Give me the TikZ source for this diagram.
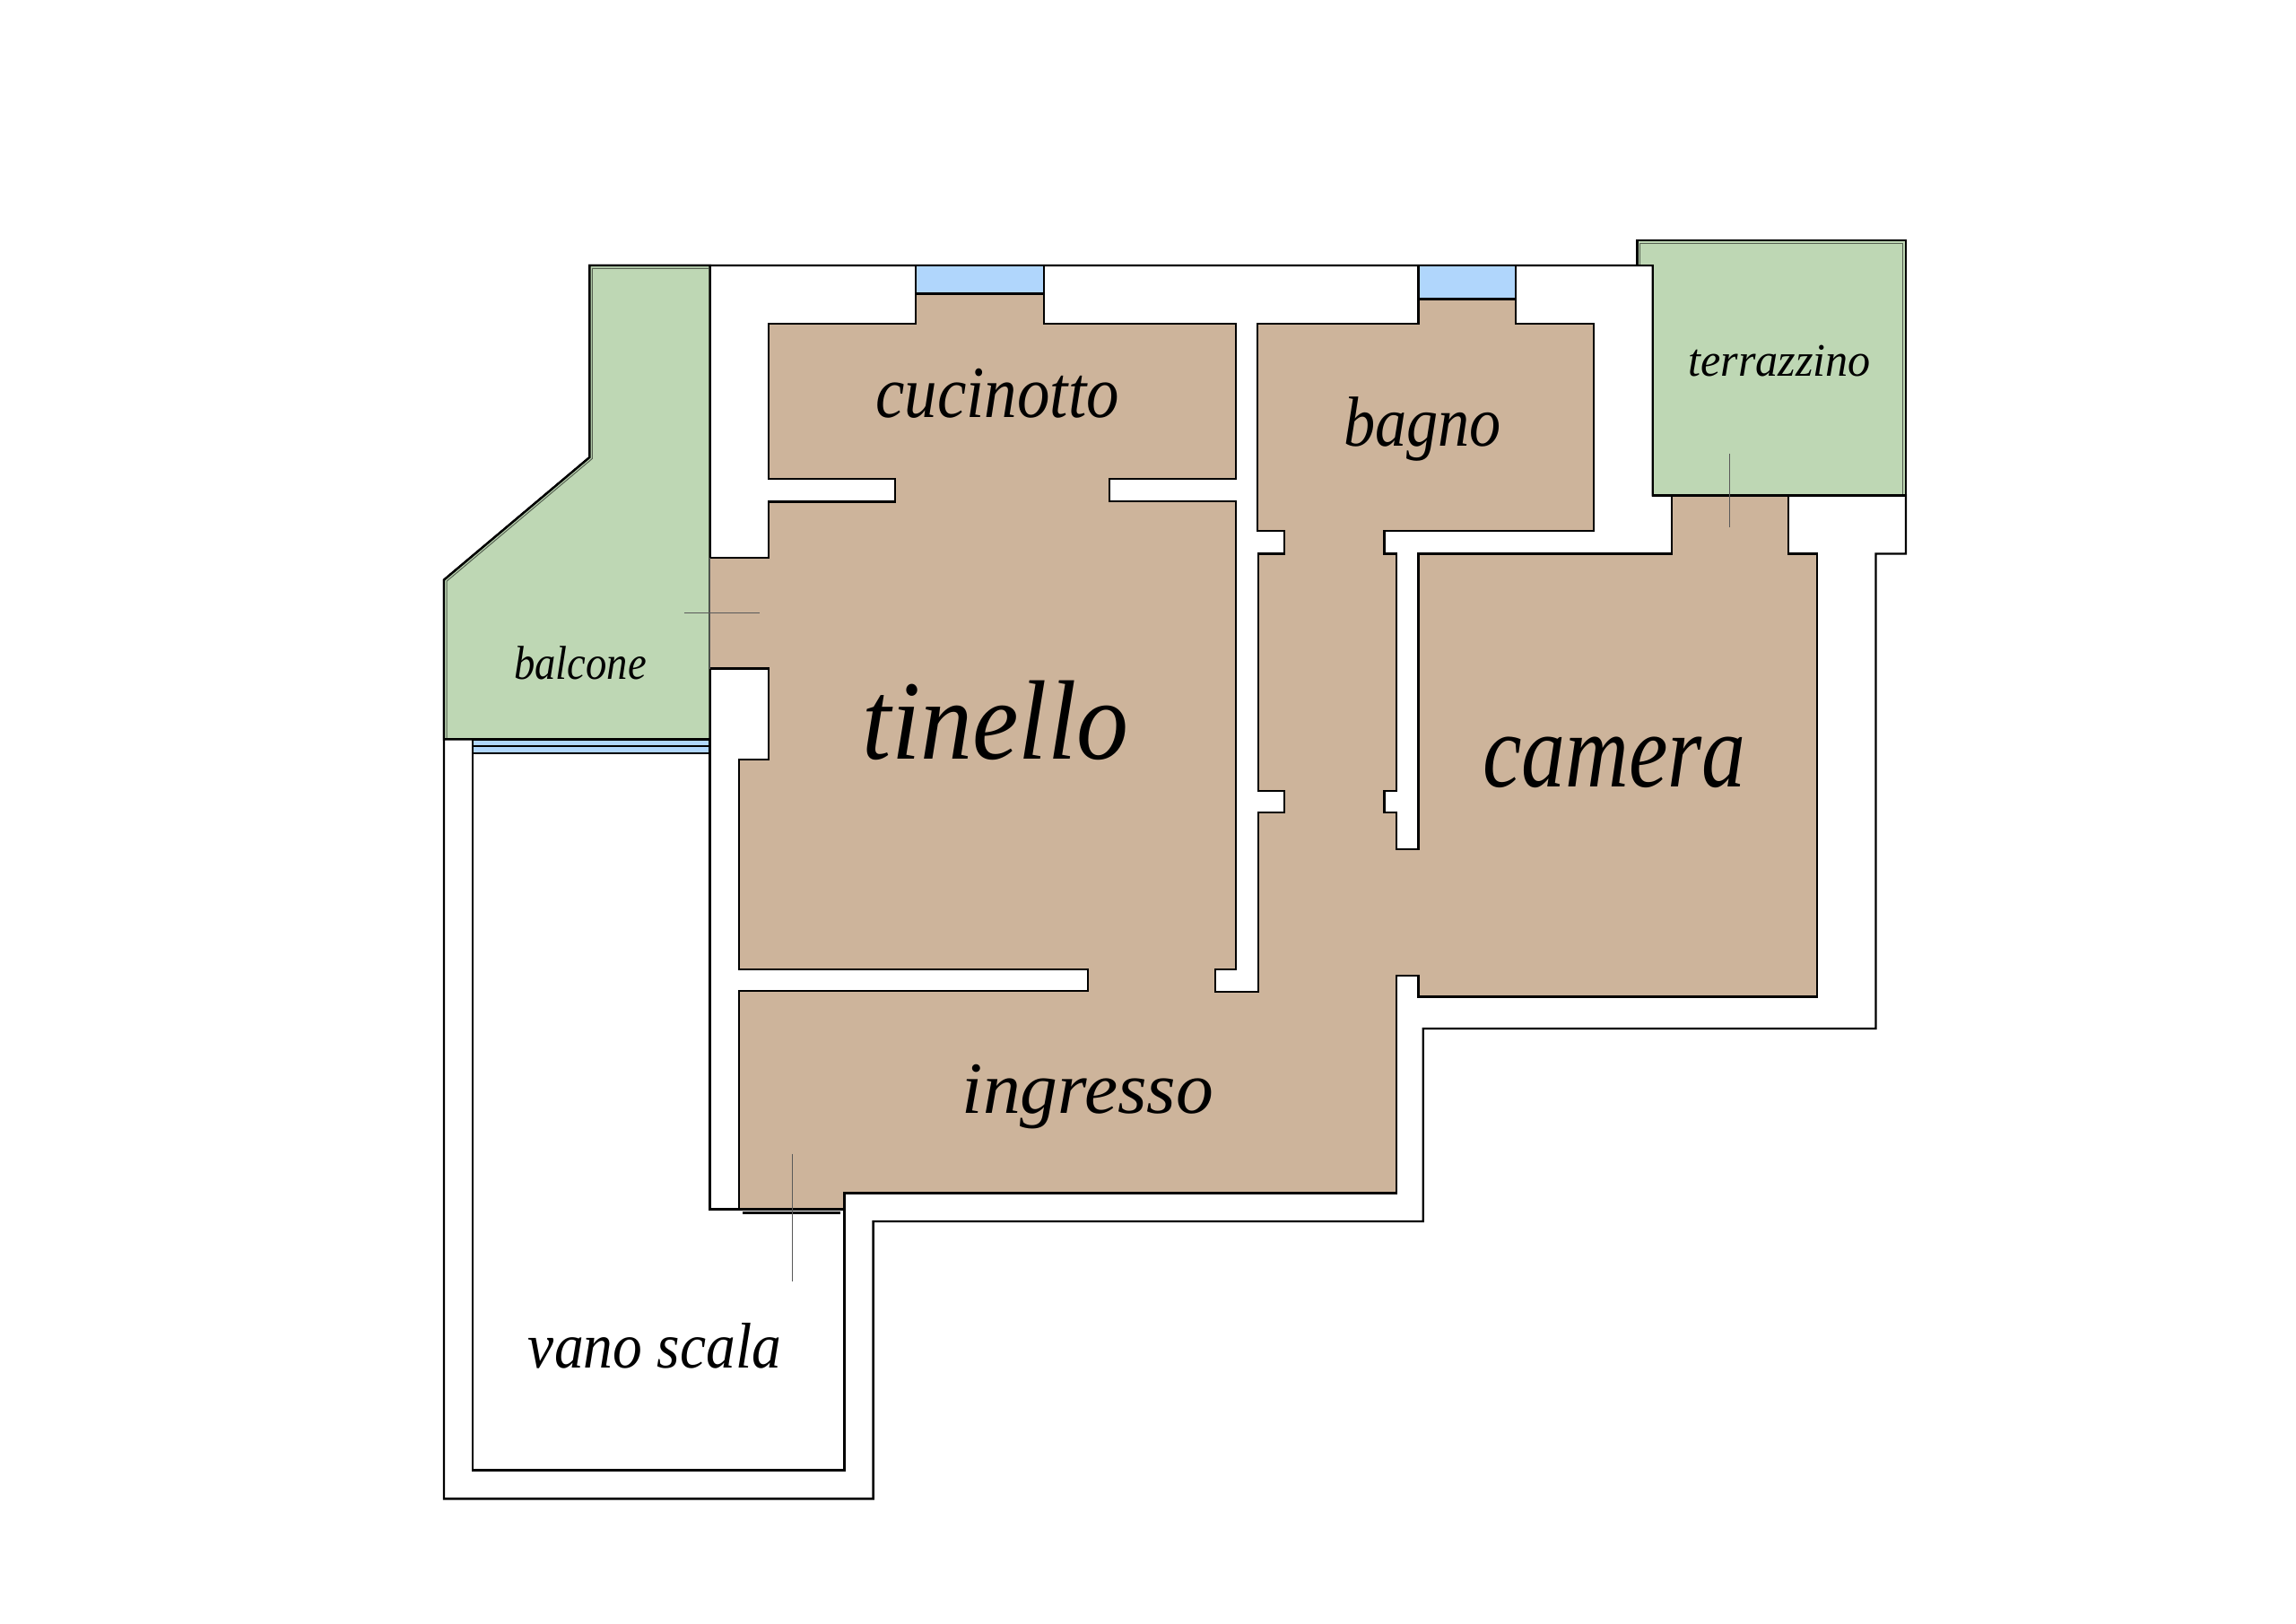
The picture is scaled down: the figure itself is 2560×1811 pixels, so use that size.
\documentclass[tikz,border=0pt]{standalone}
\usepackage{fontspec}
\setmainfont{Liberation Serif}
\definecolor{roomtan}{RGB}{205,180,155}
\definecolor{outgreen}{RGB}{190,215,180}
\definecolor{glassblue}{RGB}{176,214,252}
\tikzstyle{wall}=[draw=black, line width=2.4pt, line join=miter]
\tikzstyle{thinline}=[draw=black!65, line width=1pt]
\tikzstyle{innerline}=[draw=black!55!outgreen, line width=1pt]
\tikzset{roomlabel/.style 2 args={transform shape, inner sep=0pt, anchor=base, xscale=#2,
    font=\fontsize{#1}{#1}\selectfont\itshape}}
\begin{document}
\begin{tikzpicture}[x=1pt, y=-1pt]
    \useasboundingbox[fill=white] (0,0) rectangle (2560,1811);

    % walls
    \draw[wall, fill=white] (657.4,296) -- (1842.7,296) -- (1842.7,552.4) -- (2125,552.4) -- (2125,617.5)
      -- (2091.5,617.5) -- (2091.5,1147) -- (1586.7,1147) -- (1586.7,1362) -- (973.6,1362) -- (973.6,1671.3)
      -- (495,1671.3) -- (495,646.7) -- (657.4,510) -- cycle;
    \draw[wall] (527,824.3) -- (527,1639.3) -- (941.4,1639.3) -- (941.4,1330.5);
    \draw[wall] (791.6,824.3) -- (791.6,1348.4) -- (941.4,1348.4);
    \draw[wall, line width=2.5pt] (828,1352.6) -- (937,1352.6);

    % windows
    \foreach \xa/\xb/\yb in {1021/1164/327.5, 1581.5/1690/333.4}{
      \draw[wall, fill=glassblue] (\xa,296) rectangle (\xb,\yb);
      }
    \draw[wall, fill=glassblue] (527,824.3) rectangle (791.6,839.7);
    \draw[wall] (527,831.7) -- (791.6,831.7);

    % balcone and terrazzino
    \draw[wall, fill=outgreen] (657.4,296) -- (791.6,296) -- (791.6,824.3) -- (495,824.3) -- (495,646.7)
      -- (657.4,510) -- cycle;
    \draw[innerline] (790,299.5) -- (660.4,299.5) -- (660.4,511.4) -- (498,648.2) -- (498,823);
    \draw[wall, fill=outgreen] (1825.4,296) -- (1825.4,268.3) -- (2125,268.3) -- (2125,552.4) -- (1842.7,552.4)
      -- (1842.7,296) -- cycle;
    \draw[innerline] (1828.6,295) -- (1828.6,271.6) -- (2121.8,271.6) -- (2121.8,551);

    % rooms
    \draw[wall, fill=roomtan] (791.6,745.5) -- (857,745.5) -- (857,846.7) -- (824,846.7) -- (824,1081)
      -- (1213,1081) -- (1213,1105) -- (824,1105) -- (824,1348.4) -- (941.4,1348.4) -- (941.4,1330.5)
      -- (1557,1330.5) -- (1557,1088) -- (1581.5,1088) -- (1581.5,1111.4) -- (2026,1111.4) -- (2026,617.5)
      -- (1994,617.5) -- (1994,552.4) -- (1864,552.4) -- (1864,617.5) -- (1581.5,617.5) -- (1581.5,947)
      -- (1557,947) -- (1557,906) -- (1543.5,906) -- (1543.5,882) -- (1557,882) -- (1557,617.5)
      -- (1543.5,617.5) -- (1543.5,592) -- (1777,592) -- (1777,361) -- (1690,361) -- (1690,333.4)
      -- (1581.5,333.4) -- (1581.5,361) -- (1402,361) -- (1402,592) -- (1432,592) -- (1432,617.5)
      -- (1403,617.5) -- (1403,882) -- (1432,882) -- (1432,906) -- (1403,906) -- (1403,1106) -- (1355,1106)
      -- (1355,1081) -- (1378,1081) -- (1378,559) -- (1237,559) -- (1237,534) -- (1378,534) -- (1378,361)
      -- (1164,361) -- (1164,327.5) -- (1021,327.5) -- (1021,361) -- (857,361) -- (857,533.7) -- (998,533.7)
      -- (998,559.4) -- (857,559.4) -- (857,622.2) -- (791.6,622.2);
    \draw[thinline] (791.6,622.2) -- (791.6,745.5);

    % door ticks
    \draw[thinline] (762.6,683.5) -- (847.2,683.5);
    \draw[thinline] (1928.8,505.7) -- (1928.8,588.3);
    \draw[thinline] (883.2,1286.7) -- (883.2,1428.7);

    \node[roomlabel={126}{.92}] (tinello) at (1110,846) {tinello};
    \node[roomlabel={118}{.83}] (camera) at (1800,877) {camera};
    \node[roomlabel={82}{.89}] (cucinotto) at (1112,465) {cucinotto};
    \node[roomlabel={79}{.89}] (bagno) at (1586,497) {bagno};
    \node[roomlabel={52}{.965}] (terrazzino) at (1984,419) {terrazzino};
    \node[roomlabel={53}{.88}] (balcone) at (647,757) {balcone};
    \node[roomlabel={82}{1.02}] (ingresso) at (1213,1241) {ingresso};
    \node[roomlabel={72}{.91}] (vanoscala) at (730,1525) {vano scala};
\end{tikzpicture}
\end{document}
